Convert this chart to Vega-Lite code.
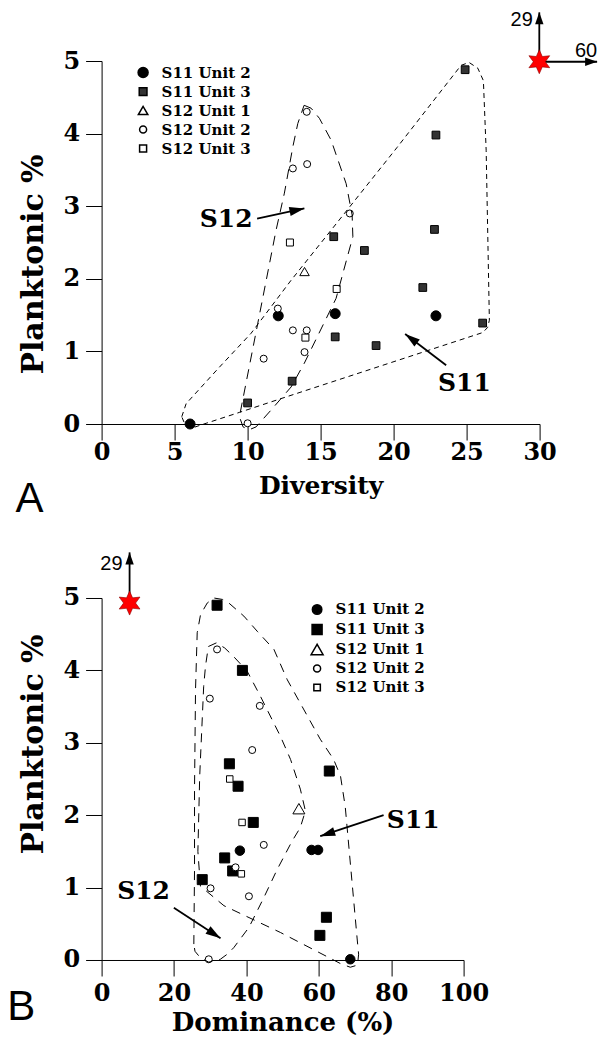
{
  "$schema": "https://vega.github.io/schema/vega-lite/v6.json",
  "background": "white",
  "padding": {"left": 6.6, "top": 9, "right": 0, "bottom": 0},
  "bounds": "flush",
  "spacing": 174,
  "resolve": {
    "scale": {"fill": "independent", "size": "independent", "shape": "independent"},
    "legend": {"fill": "independent", "size": "independent", "shape": "independent"}
  },
  "config": {
    "view": {"stroke": null},
    "axis": {
      "grid": false, "domainColor": "black", "domainWidth": 1, "tickColor": "black", "tickWidth": 1, "tickSize": 16,
      "labelFont": "DejaVu Serif", "labelFontWeight": "bold", "labelFontSize": 24, "labelColor": "black",
      "titleFont": "DejaVu Serif", "titleFontWeight": "bold", "titleColor": "black",
      "labelFlush": false, "labelOverlap": false
    },
    "legend": {
      "title": null, "padding": 0, "labelFont": "DejaVu Serif", "labelFontWeight": "bold", "labelFontSize": 15, "labelColor": "black",
      "labelOffset": 11, "rowPadding": 3
    }
  },
  "datasets": {
    "ptsA": [
      {"series":"S11 Unit 2","x":6.06,"y":0.0},
      {"series":"S11 Unit 2","x":12.1,"y":1.49},
      {"series":"S11 Unit 2","x":16.0,"y":1.52},
      {"series":"S11 Unit 2","x":22.9,"y":1.49},
      {"series":"S11 Unit 3","x":24.9,"y":4.88},
      {"series":"S11 Unit 3","x":22.9,"y":3.98},
      {"series":"S11 Unit 3","x":22.8,"y":2.68},
      {"series":"S11 Unit 3","x":15.9,"y":2.58},
      {"series":"S11 Unit 3","x":18.0,"y":2.39},
      {"series":"S11 Unit 3","x":22.0,"y":1.88},
      {"series":"S11 Unit 3","x":26.1,"y":1.39},
      {"series":"S11 Unit 3","x":16.0,"y":1.2},
      {"series":"S11 Unit 3","x":18.8,"y":1.08},
      {"series":"S11 Unit 3","x":13.05,"y":0.59},
      {"series":"S11 Unit 3","x":10.0,"y":0.29},
      {"series":"S12 Unit 1","x":13.9,"y":2.1},
      {"series":"S12 Unit 2","x":14.05,"y":4.3},
      {"series":"S12 Unit 2","x":14.08,"y":3.58},
      {"series":"S12 Unit 2","x":13.1,"y":3.52},
      {"series":"S12 Unit 2","x":17.0,"y":2.9},
      {"series":"S12 Unit 2","x":12.07,"y":1.59},
      {"series":"S12 Unit 2","x":13.1,"y":1.29},
      {"series":"S12 Unit 2","x":14.05,"y":1.29},
      {"series":"S12 Unit 2","x":11.1,"y":0.9},
      {"series":"S12 Unit 2","x":13.9,"y":0.99},
      {"series":"S12 Unit 2","x":10.0,"y":0.01},
      {"series":"S12 Unit 3","x":12.9,"y":2.5},
      {"series":"S12 Unit 3","x":16.1,"y":1.86},
      {"series":"S12 Unit 3","x":13.96,"y":1.19}
    ],
    "hullA": [
      {"hull":"S11","i":0,"x":5.49,"y":0.10},
      {"hull":"S11","i":1,"x":5.79,"y":0.28},
      {"hull":"S11","i":2,"x":8.01,"y":0.77},
      {"hull":"S11","i":3,"x":10.24,"y":1.25},
      {"hull":"S11","i":4,"x":12.98,"y":1.98},
      {"hull":"S11","i":5,"x":15.72,"y":2.67},
      {"hull":"S11","i":6,"x":20.24,"y":3.81},
      {"hull":"S11","i":7,"x":24.62,"y":4.94},
      {"hull":"S11","i":8,"x":25.17,"y":4.98},
      {"hull":"S11","i":9,"x":25.77,"y":4.90},
      {"hull":"S11","i":10,"x":26.15,"y":4.73},
      {"hull":"S11","i":11,"x":26.34,"y":3.77},
      {"hull":"S11","i":12,"x":26.47,"y":2.39},
      {"hull":"S11","i":13,"x":26.56,"y":1.43},
      {"hull":"S11","i":14,"x":26.44,"y":1.33},
      {"hull":"S11","i":15,"x":26.11,"y":1.26},
      {"hull":"S11","i":16,"x":12.29,"y":0.35},
      {"hull":"S11","i":17,"x":9.44,"y":0.16},
      {"hull":"S11","i":18,"x":7.16,"y":0.01},
      {"hull":"S11","i":19,"x":6.27,"y":-0.05},
      {"hull":"S11","i":20,"x":5.72,"y":-0.01},
      {"hull":"S11","i":21,"x":5.49,"y":0.10},
      {"hull":"S12","i":0,"x":13.87,"y":4.39},
      {"hull":"S12","i":1,"x":14.35,"y":4.35},
      {"hull":"S12","i":2,"x":14.92,"y":4.21},
      {"hull":"S12","i":3,"x":15.72,"y":3.91},
      {"hull":"S12","i":4,"x":16.75,"y":3.31},
      {"hull":"S12","i":5,"x":17.16,"y":2.88},
      {"hull":"S12","i":6,"x":17.21,"y":2.58},
      {"hull":"S12","i":7,"x":16.06,"y":1.73},
      {"hull":"S12","i":8,"x":13.89,"y":0.84},
      {"hull":"S12","i":9,"x":12.98,"y":0.51},
      {"hull":"S12","i":10,"x":11.73,"y":0.22},
      {"hull":"S12","i":11,"x":10.58,"y":-0.04},
      {"hull":"S12","i":12,"x":10.10,"y":-0.08},
      {"hull":"S12","i":13,"x":9.69,"y":-0.04},
      {"hull":"S12","i":14,"x":9.44,"y":0.10},
      {"hull":"S12","i":15,"x":10.70,"y":1.39},
      {"hull":"S12","i":16,"x":11.95,"y":2.67},
      {"hull":"S12","i":17,"x":12.52,"y":3.18},
      {"hull":"S12","i":18,"x":13.10,"y":3.82},
      {"hull":"S12","i":19,"x":13.44,"y":4.14},
      {"hull":"S12","i":20,"x":13.87,"y":4.39}
    ],
    "arrA": [
      {"name":"S12","x":10.65,"y":2.83,"x2":13.89,"y2":2.97},
      {"name":"S11","x":23.6,"y":0.81,"x2":20.79,"y2":1.24},
      {"name":"N","x":29.98,"y":4.99,"x2":29.98,"y2":5.67},
      {"name":"E","x":29.98,"y":4.99,"x2":33.94,"y2":4.99}
    ],
    "textA": [
      {"role":"group","text":"S12","x":8.53,"y":2.82},
      {"role":"group","text":"S11","x":24.85,"y":0.57},
      {"role":"bearing","text":"29","x":28.77,"y":5.57},
      {"role":"bearing","text":"60","x":33.18,"y":5.14},
      {"role":"panel","text":"A","x":-4.93,"y":-1.03}
    ],
    "siteA": [{"site":"star","x":29.98,"y":4.99}],
    "ptsB": [
      {"series":"S11 Unit 2","x":38.2,"y":1.51},
      {"series":"S11 Unit 2","x":58.0,"y":1.52},
      {"series":"S11 Unit 2","x":59.8,"y":1.52},
      {"series":"S11 Unit 2","x":68.7,"y":0.01},
      {"series":"S11 Unit 3","x":31.9,"y":4.90},
      {"series":"S11 Unit 3","x":38.9,"y":4.00},
      {"series":"S11 Unit 3","x":35.3,"y":2.71},
      {"series":"S11 Unit 3","x":37.7,"y":2.40},
      {"series":"S11 Unit 3","x":62.9,"y":2.61},
      {"series":"S11 Unit 3","x":41.9,"y":1.90},
      {"series":"S11 Unit 3","x":34.0,"y":1.41},
      {"series":"S11 Unit 3","x":36.2,"y":1.23},
      {"series":"S11 Unit 3","x":27.8,"y":1.11},
      {"series":"S11 Unit 3","x":62.1,"y":0.59},
      {"series":"S11 Unit 3","x":60.3,"y":0.34},
      {"series":"S12 Unit 1","x":54.5,"y":2.09},
      {"series":"S12 Unit 2","x":31.9,"y":4.29},
      {"series":"S12 Unit 2","x":29.9,"y":3.61},
      {"series":"S12 Unit 2","x":43.7,"y":3.51},
      {"series":"S12 Unit 2","x":41.6,"y":2.90},
      {"series":"S12 Unit 2","x":44.8,"y":1.59},
      {"series":"S12 Unit 2","x":37.0,"y":1.28},
      {"series":"S12 Unit 2","x":30.1,"y":0.99},
      {"series":"S12 Unit 2","x":40.7,"y":0.88},
      {"series":"S12 Unit 2","x":29.6,"y":0.01},
      {"series":"S12 Unit 3","x":35.4,"y":2.50},
      {"series":"S12 Unit 3","x":38.8,"y":1.90},
      {"series":"S12 Unit 3","x":38.6,"y":1.19}
    ],
    "hullB": [
      {"hull":"outer","i":0,"x":25.48,"y":0.22},
      {"hull":"outer","i":1,"x":25.67,"y":1.25},
      {"hull":"outer","i":2,"x":25.67,"y":2.36},
      {"hull":"outer","i":3,"x":25.95,"y":3.74},
      {"hull":"outer","i":4,"x":26.41,"y":4.52},
      {"hull":"outer","i":5,"x":27.33,"y":4.77},
      {"hull":"outer","i":6,"x":29.17,"y":4.93},
      {"hull":"outer","i":7,"x":31.0,"y":5.0},
      {"hull":"outer","i":8,"x":33.4,"y":4.98},
      {"hull":"outer","i":9,"x":34.7,"y":4.95},
      {"hull":"outer","i":10,"x":39.3,"y":4.75},
      {"hull":"outer","i":11,"x":43.0,"y":4.54},
      {"hull":"outer","i":12,"x":47.6,"y":4.29},
      {"hull":"outer","i":13,"x":51.3,"y":3.87},
      {"hull":"outer","i":14,"x":60.4,"y":3.05},
      {"hull":"outer","i":15,"x":64.1,"y":2.77},
      {"hull":"outer","i":16,"x":66.0,"y":2.54},
      {"hull":"outer","i":17,"x":67.3,"y":2.12},
      {"hull":"outer","i":18,"x":70.6,"y":0.29},
      {"hull":"outer","i":19,"x":71.0,"y":0.08},
      {"hull":"outer","i":20,"x":70.7,"y":-0.07},
      {"hull":"outer","i":21,"x":68.7,"y":-0.10},
      {"hull":"outer","i":22,"x":66.0,"y":-0.05},
      {"hull":"outer","i":23,"x":49.4,"y":0.38},
      {"hull":"outer","i":24,"x":33.8,"y":0.75},
      {"hull":"outer","i":25,"x":27.3,"y":1.02},
      {"hull":"inner","i":0,"x":27.3,"y":1.02},
      {"hull":"inner","i":1,"x":26.6,"y":1.5},
      {"hull":"inner","i":2,"x":27.1,"y":2.54},
      {"hull":"inner","i":3,"x":28.2,"y":3.78},
      {"hull":"inner","i":4,"x":28.7,"y":4.06},
      {"hull":"inner","i":5,"x":29.5,"y":4.33},
      {"hull":"inner","i":6,"x":31.7,"y":4.38},
      {"hull":"inner","i":7,"x":34.0,"y":4.31},
      {"hull":"inner","i":8,"x":36.5,"y":4.19},
      {"hull":"inner","i":9,"x":40.2,"y":3.99},
      {"hull":"inner","i":10,"x":43.9,"y":3.64},
      {"hull":"inner","i":11,"x":46.6,"y":3.37},
      {"hull":"inner","i":12,"x":49.4,"y":3.09},
      {"hull":"inner","i":13,"x":52.2,"y":2.77},
      {"hull":"inner","i":14,"x":54.9,"y":2.36},
      {"hull":"inner","i":15,"x":56.3,"y":2.06},
      {"hull":"inner","i":16,"x":54.9,"y":1.83},
      {"hull":"inner","i":17,"x":52.6,"y":1.64},
      {"hull":"inner","i":18,"x":48.5,"y":1.25},
      {"hull":"inner","i":19,"x":44.8,"y":0.86},
      {"hull":"inner","i":20,"x":40.7,"y":0.45},
      {"hull":"inner","i":21,"x":36.5,"y":0.17},
      {"hull":"inner","i":22,"x":34.7,"y":0.08},
      {"hull":"inner","i":23,"x":32.8,"y":0.01},
      {"hull":"inner","i":24,"x":29.6,"y":-0.03},
      {"hull":"inner","i":25,"x":27.3,"y":0.03},
      {"hull":"inner","i":26,"x":25.8,"y":0.12},
      {"hull":"inner","i":27,"x":25.48,"y":0.22}
    ],
    "arrB": [
      {"name":"S12","x":19.96,"y":0.72,"x2":32.85,"y2":0.30},
      {"name":"S11","x":77.9,"y":2.0,"x2":60.4,"y2":1.71},
      {"name":"N","x":7.73,"y":4.93,"x2":7.73,"y2":5.63}
    ],
    "textB": [
      {"role":"group","text":"S12","x":11.6,"y":0.95},
      {"role":"group","text":"S11","x":86.1,"y":1.93},
      {"role":"bearing","text":"29","x":2.7,"y":5.47},
      {"role":"panel","text":"B","x":-22.2,"y":-0.65}
    ],
    "siteB": [{"site":"star","x":7.73,"y":4.93}]
  },
  "vconcat": [
    {
      "width": 438,
      "height": 363,
      "encoding": {
        "x": {"field": "x", "type": "quantitative", "scale": {"domain": [0, 30], "nice": false, "zero": false},
              "axis": {"title": "Diversity", "values": [0,5,10,15,20,25,30], "titleFontSize": 25, "labelPadding": 0, "titleY": 69, "titleBaseline": "alphabetic"}},
        "y": {"field": "y", "type": "quantitative", "scale": {"domain": [0, 5], "nice": false, "zero": false},
              "axis": {"title": "Planktonic %", "values": [0,1,2,3,4,5], "titleFontSize": 30, "titleX": -59, "titleY": 203, "titleBaseline": "alphabetic", "titleAngle": 270, "titleAlign": "center", "labelPadding": 6}}
      },
      "layer": [
        {
          "data": {"name": "ptsA"},
          "mark": {"type": "point", "filled": true, "stroke": "black", "strokeWidth": 1, "opacity": 1},
          "encoding": {
            "shape": {"field": "series", "type": "nominal",
                      "scale": {"domain": ["S11 Unit 2","S11 Unit 3","S12 Unit 1","S12 Unit 2","S12 Unit 3"], "range": ["circle","square","triangle-up","circle","square"]},
                      "legend": {"orient": "none", "legendX": 34, "legendY": 4, "encode": {"symbols": {"update": {"stroke": {"value": "black"}, "strokeWidth": {"value": 1}}}}}},
            "fill": {"field": "series", "type": "nominal",
                     "scale": {"domain": ["S11 Unit 2","S11 Unit 3","S12 Unit 1","S12 Unit 2","S12 Unit 3"], "range": ["#000000","#333333","#ffffff","#ffffff","#ffffff"]},
                     "legend": {"orient": "none", "legendX": 34, "legendY": 4, "encode": {"symbols": {"update": {"stroke": {"value": "black"}, "strokeWidth": {"value": 1}}}}}},
            "size": {"field": "series", "type": "nominal",
                     "scale": {"type": "ordinal", "domain": ["S11 Unit 2","S11 Unit 3","S12 Unit 1","S12 Unit 2","S12 Unit 3"], "range": [100, 60, 90, 49, 49]},
                     "legend": {"orient": "none", "legendX": 34, "legendY": 4, "encode": {"symbols": {"update": {"stroke": {"value": "black"}, "strokeWidth": {"value": 1}}}}}}
          }
        },
        {
          "data": {"name": "hullA"},
          "transform": [{"filter": "datum.hull === 'S11'"}],
          "mark": {"type": "line", "stroke": "black", "strokeWidth": 1, "strokeDash": [5, 4], "interpolate": "linear"},
          "encoding": {"order": {"field": "i", "type": "quantitative"}}
        },
        {
          "data": {"name": "hullA"},
          "transform": [{"filter": "datum.hull === 'S12'"}],
          "mark": {"type": "line", "stroke": "black", "strokeWidth": 1, "strokeDash": [10, 7], "interpolate": "linear"},
          "encoding": {"order": {"field": "i", "type": "quantitative"}}
        },
        {
          "data": {"name": "arrA"},
          "mark": {"type": "rule", "stroke": "black", "strokeWidth": 1.8},
          "encoding": {"x2": {"field": "x2"}, "y2": {"field": "y2"}}
        },
        {
          "data": {"name": "arrA"},
          "transform": [{"filter": "datum.name === 'S12'"}],
          "mark": {"type": "point", "shape": "M0,0L-0.3,1L0.3,1Z", "filled": true, "fill": "black", "stroke": null, "size": 900, "angle": 78, "opacity": 1},
          "encoding": {"x": {"field": "x2", "type": "quantitative", "title": "Diversity"}, "y": {"field": "y2", "type": "quantitative", "title": "Planktonic %"}}
        },
        {
          "data": {"name": "arrA"},
          "transform": [{"filter": "datum.name === 'S11'"}],
          "mark": {"type": "point", "shape": "M0,0L-0.3,1L0.3,1Z", "filled": true, "fill": "black", "stroke": null, "size": 900, "angle": -53, "opacity": 1},
          "encoding": {"x": {"field": "x2", "type": "quantitative", "title": "Diversity"}, "y": {"field": "y2", "type": "quantitative", "title": "Planktonic %"}}
        },
        {
          "data": {"name": "arrA"},
          "transform": [{"filter": "datum.name === 'N'"}],
          "mark": {"type": "point", "shape": "M0,0L-0.35,1L0.35,1Z", "filled": true, "fill": "black", "stroke": null, "size": 576, "angle": 0, "opacity": 1},
          "encoding": {"x": {"field": "x2", "type": "quantitative", "title": "Diversity"}, "y": {"field": "y2", "type": "quantitative", "title": "Planktonic %"}}
        },
        {
          "data": {"name": "arrA"},
          "transform": [{"filter": "datum.name === 'E'"}],
          "mark": {"type": "point", "shape": "M0,0L-0.35,1L0.35,1Z", "filled": true, "fill": "black", "stroke": null, "size": 576, "angle": 90, "opacity": 1},
          "encoding": {"x": {"field": "x2", "type": "quantitative", "title": "Diversity"}, "y": {"field": "y2", "type": "quantitative", "title": "Planktonic %"}}
        },
        {
          "data": {"name": "siteA"},
          "mark": {"type": "point", "shape": "M0,-1L0.25,-0.433L0.866,-0.5L0.5,0L0.866,0.5L0.25,0.433L0,1L-0.25,0.433L-0.866,0.5L-0.5,0L-0.866,-0.5L-0.25,-0.433Z", "filled": true, "fill": "#ff0000", "stroke": "#8b0000", "strokeWidth": 0.6, "size": 576, "opacity": 1}
        },
        {
          "data": {"name": "textA"},
          "transform": [{"filter": "datum.role === 'group'"}],
          "mark": {"type": "text", "font": "DejaVu Serif", "fontWeight": "bold", "fontSize": 25, "align": "center", "baseline": "middle", "color": "black"},
          "encoding": {"text": {"field": "text"}}
        },
        {
          "data": {"name": "textA"},
          "transform": [{"filter": "datum.role === 'bearing'"}],
          "mark": {"type": "text", "font": "Liberation Sans", "fontSize": 20, "align": "center", "baseline": "middle", "color": "black"},
          "encoding": {"text": {"field": "text"}}
        },
        {
          "data": {"name": "textA"},
          "transform": [{"filter": "datum.role === 'panel'"}],
          "mark": {"type": "text", "font": "Liberation Sans", "fontSize": 42, "align": "center", "baseline": "middle", "color": "black"},
          "encoding": {"text": {"field": "text"}}
        }
      ]
    },
    {
      "width": 362,
      "height": 362,
      "encoding": {
        "x": {"field": "x", "type": "quantitative", "scale": {"domain": [0, 100], "nice": false, "zero": false},
              "axis": {"title": "Dominance (%)", "values": [0,20,40,60,80,100], "titleFontSize": 26, "labelPadding": 6, "titleY": 71, "titleBaseline": "alphabetic"}},
        "y": {"field": "y", "type": "quantitative", "scale": {"domain": [0, 5], "nice": false, "zero": false},
              "axis": {"title": "Planktonic %", "values": [0,1,2,3,4,5], "titleFontSize": 30, "titleX": -59, "titleY": 146, "titleBaseline": "alphabetic", "titleAngle": 270, "titleAlign": "center", "labelPadding": 6}}
      },
      "layer": [
        {
          "data": {"name": "ptsB"},
          "mark": {"type": "point", "filled": true, "stroke": "black", "strokeWidth": 1, "opacity": 1},
          "encoding": {
            "shape": {"field": "series", "type": "nominal",
                      "scale": {"domain": ["S11 Unit 2","S11 Unit 3","S12 Unit 1","S12 Unit 2","S12 Unit 3"], "range": ["circle","square","triangle-up","circle","square"]},
                      "legend": {"orient": "none", "legendX": 208, "legendY": 4, "encode": {"symbols": {"update": {"stroke": {"value": "black"}, "strokeWidth": {"value": 1}}}}}},
            "fill": {"field": "series", "type": "nominal",
                     "scale": {"domain": ["S11 Unit 2","S11 Unit 3","S12 Unit 1","S12 Unit 2","S12 Unit 3"], "range": ["#000000","#000000","#ffffff","#ffffff","#ffffff"]},
                     "legend": {"orient": "none", "legendX": 208, "legendY": 4, "encode": {"symbols": {"update": {"stroke": {"value": "black"}, "strokeWidth": {"value": 1}}}}}},
            "size": {"field": "series", "type": "nominal",
                     "scale": {"type": "ordinal", "domain": ["S11 Unit 2","S11 Unit 3","S12 Unit 1","S12 Unit 2","S12 Unit 3"], "range": [90, 100, 144, 49, 42]},
                     "legend": {"orient": "none", "legendX": 208, "legendY": 4, "encode": {"symbols": {"update": {"stroke": {"value": "black"}, "strokeWidth": {"value": 1}}}}}}
          }
        },
        {
          "data": {"name": "hullB"},
          "mark": {"type": "line", "stroke": "black", "strokeWidth": 1, "strokeDash": [9, 7], "interpolate": "linear"},
          "encoding": {"detail": {"field": "hull"}, "order": {"field": "i", "type": "quantitative"}}
        },
        {
          "data": {"name": "arrB"},
          "mark": {"type": "rule", "stroke": "black", "strokeWidth": 1.8},
          "encoding": {"x2": {"field": "x2"}, "y2": {"field": "y2"}}
        },
        {
          "data": {"name": "arrB"},
          "transform": [{"filter": "datum.name === 'S12'"}],
          "mark": {"type": "point", "shape": "M0,0L-0.3,1L0.3,1Z", "filled": true, "fill": "black", "stroke": null, "size": 900, "angle": 123.6, "opacity": 1},
          "encoding": {"x": {"field": "x2", "type": "quantitative", "title": "Dominance (%)"}, "y": {"field": "y2", "type": "quantitative", "title": "Planktonic %"}}
        },
        {
          "data": {"name": "arrB"},
          "transform": [{"filter": "datum.name === 'S11'"}],
          "mark": {"type": "point", "shape": "M0,0L-0.3,1L0.3,1Z", "filled": true, "fill": "black", "stroke": null, "size": 900, "angle": -108, "opacity": 1},
          "encoding": {"x": {"field": "x2", "type": "quantitative", "title": "Dominance (%)"}, "y": {"field": "y2", "type": "quantitative", "title": "Planktonic %"}}
        },
        {
          "data": {"name": "arrB"},
          "transform": [{"filter": "datum.name === 'N'"}],
          "mark": {"type": "point", "shape": "M0,0L-0.35,1L0.35,1Z", "filled": true, "fill": "black", "stroke": null, "size": 576, "angle": 0, "opacity": 1},
          "encoding": {"x": {"field": "x2", "type": "quantitative", "title": "Dominance (%)"}, "y": {"field": "y2", "type": "quantitative", "title": "Planktonic %"}}
        },
        {
          "data": {"name": "siteB"},
          "mark": {"type": "point", "shape": "M0,-1L0.25,-0.433L0.866,-0.5L0.5,0L0.866,0.5L0.25,0.433L0,1L-0.25,0.433L-0.866,0.5L-0.5,0L-0.866,-0.5L-0.25,-0.433Z", "filled": true, "fill": "#ff0000", "stroke": "#8b0000", "strokeWidth": 0.6, "size": 576, "opacity": 1}
        },
        {
          "data": {"name": "textB"},
          "transform": [{"filter": "datum.role === 'group'"}],
          "mark": {"type": "text", "font": "DejaVu Serif", "fontWeight": "bold", "fontSize": 25, "align": "center", "baseline": "middle", "color": "black"},
          "encoding": {"text": {"field": "text"}}
        },
        {
          "data": {"name": "textB"},
          "transform": [{"filter": "datum.role === 'bearing'"}],
          "mark": {"type": "text", "font": "Liberation Sans", "fontSize": 20, "align": "center", "baseline": "middle", "color": "black"},
          "encoding": {"text": {"field": "text"}}
        },
        {
          "data": {"name": "textB"},
          "transform": [{"filter": "datum.role === 'panel'"}],
          "mark": {"type": "text", "font": "Liberation Sans", "fontSize": 42, "align": "center", "baseline": "middle", "color": "black"},
          "encoding": {"text": {"field": "text"}}
        }
      ]
    }
  ]
}
